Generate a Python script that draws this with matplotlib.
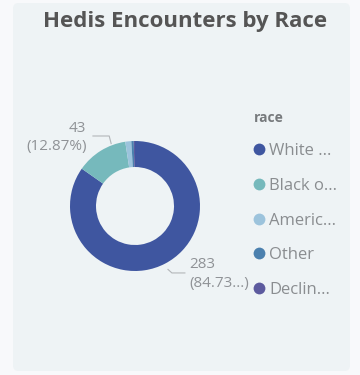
import numpy as np
import matplotlib
matplotlib.use("Agg")
import matplotlib.pyplot as plt
from matplotlib.patches import FancyBboxPatch
from matplotlib.lines import Line2D

categories = ["White ...", "Black o...", "Americ...", "Other", "Declin..."]
values = [283, 43, 5, 2, 1]
colors = ["#3f56a0", "#76b9bc", "#9cc3dc", "#4b80ae", "#5c5a9e"]
legend_title = "race"
title = "Hedis Encounters by Race"

W, H = 360, 375
fig = plt.figure(figsize=(W / 100, H / 100), dpi=100)
fig.patch.set_facecolor("#f8f9fb")

card = FancyBboxPatch((13 / W, 4 / H), (350 - 13) / W, (372 - 4) / H,
                      boxstyle="round,pad=0,rounding_size=0.015",
                      transform=fig.transFigure, facecolor="#eef3f5",
                      edgecolor="none", zorder=-10)
fig.patches.append(card)

fig.text(185 / W, 1 - 22 / H, title, ha="center", va="center",
         fontsize=16, fontweight="bold", color="#555555", family="Open Sans")

cx, cy, r = 135, 206, 65
ax = fig.add_axes([(cx - r) / W, 1 - (cy + r) / H, 2 * r / W, 2 * r / H])
ax.set_zorder(5)
ax.set_facecolor("none")
wedges, _ = ax.pie(values, colors=colors, startangle=90, counterclock=False,
                   radius=1.0, wedgeprops=dict(width=0.4, edgecolor="none"))
ax.set_xlim(-1, 1)
ax.set_ylim(-1, 1)
ax.set_aspect("equal")
ax.axis("off")

total = sum(values)
gray = "#8f9296"
line_c = "#b3b6b9"

# label for first slice (White), lower right
w = wedges[0]
ang = np.deg2rad((w.theta1 + w.theta2) / 2)
sx, sy = 1.1 * np.cos(ang), 1.1 * np.sin(ang)
ly = -1.03
pts = [(sx, sy), (sx + 0.06, ly), (sx + 0.26, ly)]
xs, ys = zip(*pts)
ax.add_line(Line2D(xs, ys, color=line_c, lw=0.8, clip_on=False))
pct = values[0] / total * 100
ax.text(pts[-1][0] + 0.07, ly - 0.015, f"{values[0]}\n" + f"({pct:.2f}"[:6] + "...)",
        ha="left", va="center", fontsize=11, color=gray, family="Open Sans",
        linespacing=1.35, clip_on=False)

# label for second slice (Black), upper left
w = wedges[1]
ang = np.deg2rad((w.theta1 + w.theta2) / 2)
vx = np.cos(ang) + 0.16
vy = np.sqrt(1 - vx ** 2) + 0.03
ly = 1.077
pts = [(vx, vy), (vx - 0.03, ly), (vx - 0.28, ly)]
xs, ys = zip(*pts)
ax.add_line(Line2D(xs, ys, color=line_c, lw=0.8, clip_on=False))
pct = values[1] / total * 100
ax.text(pts[-1][0] - 0.1, ly - 0.02, f"{values[1]}\n({pct:.2f}%)",
        ha="right", va="center", fontsize=11, color=gray, family="Open Sans",
        linespacing=1.25, clip_on=False)

handles = [Line2D([], [], marker="o", linestyle="none", markersize=8.5,
                  markerfacecolor=c, markeredgecolor="none") for c in colors]
leg = fig.legend(handles, categories, title=legend_title, loc="upper left",
                 bbox_to_anchor=(252 / W, 1 - 109 / H), frameon=False,
                 alignment="left", handlelength=0.7, handletextpad=0.25,
                 labelspacing=1.12, borderaxespad=0, borderpad=0.1,
                 prop=dict(family="Open Sans", size=12))
leg.get_title().set_fontsize(10)
leg.get_title().set_fontweight("bold")
leg.get_title().set_color("#777a7d")
leg.get_title().set_family("Open Sans")
for t in leg.get_texts():
    t.set_color("#8a8d90")

fig.savefig("out.png", dpi=100, facecolor=fig.get_facecolor())
